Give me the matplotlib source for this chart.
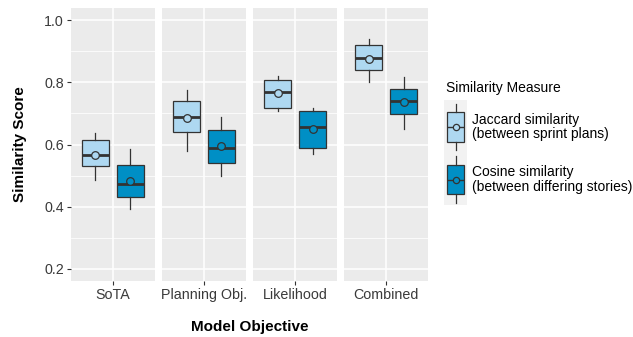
import matplotlib
matplotlib.use("Agg")
import matplotlib.pyplot as plt
from matplotlib.ticker import MultipleLocator

plt.rcParams["font.family"] = ["Liberation Sans", "DejaVu Sans"]

OBJECTIVES = ["SoTA", "Planning Obj.", "Likelihood", "Combined"]
MEASURES = ["Jaccard similarity\n(between sprint plans)",
            "Cosine similarity\n(between differing stories)"]
COLORS = ["#AED8F1", "#008FC5"]

# five-number summaries + mean (per objective)
JAC_LO = [0.485, 0.580, 0.709, 0.800]
JAC_Q1 = [0.532, 0.639, 0.719, 0.840]
JAC_MED = [0.565, 0.689, 0.769, 0.880]
JAC_Q3 = [0.614, 0.739, 0.808, 0.920]
JAC_HI = [0.636, 0.777, 0.820, 0.940]
JAC_MEAN = [0.565, 0.684, 0.765, 0.875]

COS_LO = [0.391, 0.498, 0.570, 0.651]
COS_Q1 = [0.431, 0.539, 0.589, 0.699]
COS_MED = [0.473, 0.589, 0.658, 0.741]
COS_Q3 = [0.533, 0.648, 0.708, 0.780]
COS_HI = [0.584, 0.688, 0.718, 0.819]
COS_MEAN = [0.482, 0.594, 0.649, 0.738]

EDGE = "#333333"
W, H = 633, 337


def stats(lo, q1, med, q3, hi, mean, i):
    return dict(whislo=lo[i], q1=q1[i], med=med[i], q3=q3[i], whishi=hi[i], mean=mean[i])


def draw_box(ax, st, pos, color, width=0.38, ms=5.5):
    ax.bxp([st], positions=[pos], widths=width, showmeans=True, showfliers=False,
           patch_artist=True, showcaps=False,
           boxprops=dict(facecolor=color, edgecolor=EDGE, linewidth=0.9),
           whiskerprops=dict(color=EDGE, linewidth=0.9),
           medianprops=dict(color=EDGE, linewidth=2.0, solid_capstyle="butt"),
           meanprops=dict(marker="o", markerfacecolor=color, markeredgecolor=EDGE,
                          markersize=ms, markeredgewidth=0.9))


def px(x0, y0, w, h):
    return [x0 / W, 1 - (y0 + h) / H, w / W, h / H]


fig = plt.figure(figsize=(6.33, 3.37), dpi=100)
left, pw, gap = 71, 83.8, 7.3
top, bottom = 8, 281

for i, name in enumerate(OBJECTIVES):
    ax = fig.add_axes(px(left + i * (pw + gap), top, pw, bottom - top))
    ax.set_facecolor("#EBEBEB")
    ax.set_xlim(0.4, 1.6)
    ax.set_ylim(0.16, 1.04)
    ax.yaxis.set_major_locator(MultipleLocator(0.2))
    ax.yaxis.set_minor_locator(MultipleLocator(0.1))
    ax.grid(which="major", color="white", linewidth=1.1)
    ax.grid(which="minor", axis="y", color="white", linewidth=0.55)
    ax.set_axisbelow(True)
    for s in ax.spines.values():
        s.set_visible(False)
    draw_box(ax, stats(JAC_LO, JAC_Q1, JAC_MED, JAC_Q3, JAC_HI, JAC_MEAN, i), 0.75, COLORS[0])
    draw_box(ax, stats(COS_LO, COS_Q1, COS_MED, COS_Q3, COS_HI, COS_MEAN, i), 1.25, COLORS[1])
    ax.set_xticks([1], [name])
    ax.tick_params(axis="both", which="major", length=3, width=0.8, color="#333333",
                   labelsize=10.3, labelcolor="#3A3A3A", pad=2)
    ax.tick_params(axis="y", which="minor", length=0)
    if i == 0:
        ax.set_yticks([0.2, 0.4, 0.6, 0.8, 1.0], ["0.2", "0.4", "0.6", "0.8", "1.0"])
        ax.set_ylabel("Similarity Score", fontsize=11, fontweight="bold", labelpad=12.5)
    else:
        ax.tick_params(axis="y", which="major", length=0, labelleft=False)

fig.text((left + (4 * pw + 3 * gap) / 2) / W, 1 - 327 / H, "Model Objective",
         ha="center", va="center", fontsize=11, fontweight="bold")

# legend
fig.text(446 / W, 1 - 88 / H, "Similarity Measure", ha="left", va="center", fontsize=10)
bg = fig.add_axes(px(444, 100, 23, 105))
bg.set_facecolor("#F2F2F2")
bg.set_xticks([])
bg.set_yticks([])
for s in bg.spines.values():
    s.set_visible(False)
for k, (label, color) in enumerate(zip(MEASURES, COLORS)):
    y0 = 101 + k * 52.5
    kax = fig.add_axes(px(444, y0, 23, 52))
    kax.patch.set_alpha(0)
    kax.set_xlim(0, 1)
    kax.set_ylim(0, 1)
    kax.axis("off")
    draw_box(kax, dict(whislo=0.05, q1=0.22, med=0.5, q3=0.78, whishi=0.95, mean=0.5),
             0.5, color, width=0.7, ms=4.5)
    kax.lines[-2].set_linewidth(1.0)
    fig.text(472 / W, 1 - (y0 + 26) / H, label, ha="left", va="center", fontsize=10,
             linespacing=1.05)

fig.savefig("out.png", dpi=100)
